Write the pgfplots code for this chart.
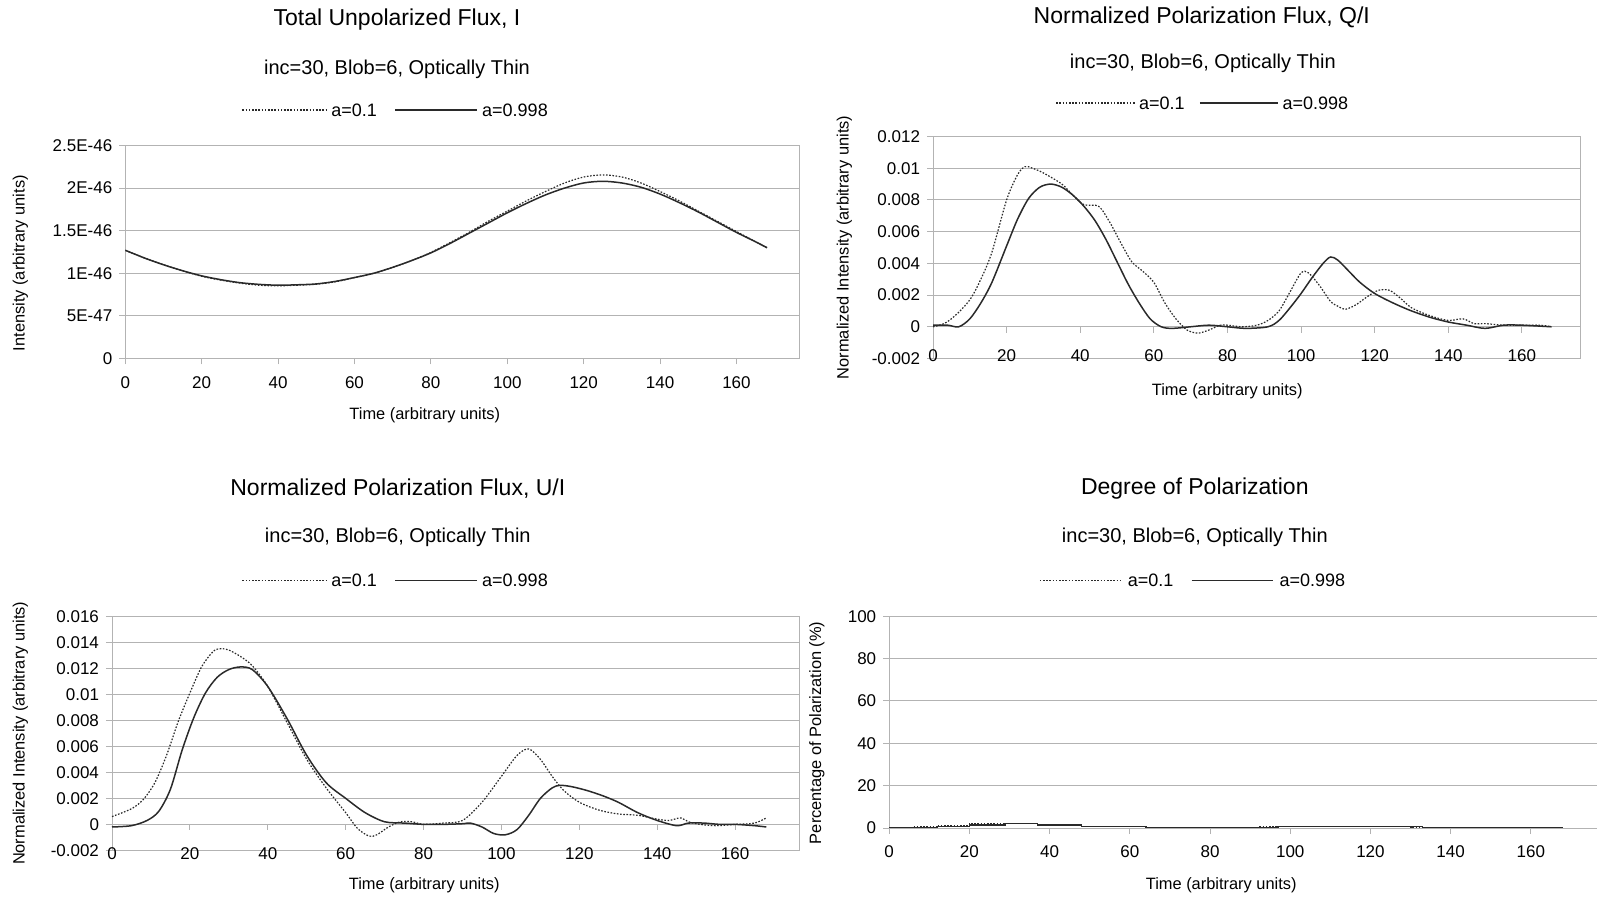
\documentclass[border=0pt]{standalone}
\usepackage{pgfplots}
\pgfplotsset{compat=1.18}
\usepackage{fontspec}
\setmainfont{Liberation Sans}
\definecolor{gridgray}{HTML}{B3B3B3}
\definecolor{curve}{HTML}{2A2A2A}
\pgfplotsset{
  myaxis/.style={
    scale only axis, anchor=south west,
    axis line style={gridgray, line width=0.5bp},
    ymajorgrids, major grid style={gridgray, line width=0.5bp},
    tick style={gridgray, line width=0.5bp},
    tick align=outside, major tick length=3bp,
    xtick pos=bottom, ytick pos=left,
    scaled y ticks=false, scaled x ticks=false,
    ticklabel style={font=\fontsize{8.5bp}{10bp}\selectfont, text=black},
    xticklabel style={yshift=-2.5bp},
    xmin=0,
    xtick={0,20,40,60,80,100,120,140,160},
    xticklabels={0,20,40,60,80,100,120,140,160},
  },
  dotline/.style={curve, line width=0.6bp, dash pattern=on 0.8bp off 0.8bp, smooth},
  solline/.style={curve, line width=0.75bp, smooth},
}
\newcommand{\ttl}{\fontsize{11.5bp}{13bp}\selectfont}
\newcommand{\sub}{\fontsize{10bp}{12bp}\selectfont}
\newcommand{\lab}{\fontsize{8.2bp}{10bp}\selectfont}
\newcommand{\leg}{\fontsize{9bp}{11bp}\selectfont}
\begin{document}
\begin{tikzpicture}
\path[use as bounding box] (0,0) rectangle (798.5bp,448.5bp);

% ---------------- Panel 1 ----------------
\begin{axis}[myaxis, at={(62.65bp,269.25bp)}, width=337.1bp, height=106.5bp,
  xmax=176.5, ymin=0, ymax=2.5,
  ytick={0,0.5,1,1.5,2,2.5},
  yticklabels={0,5E-47,1E-46,1.5E-46,2E-46,2.5E-46}]
\addplot[dotline] coordinates {(0,1.27)(5,1.18)(10,1.10)(15,1.03)(20,0.965)(25,0.92)(30,0.885)(35,0.86)(40,0.853)(45,0.86)(50,0.872)(55,0.90)(60,0.95)(65,1.00)(70,1.07)(75,1.15)(80,1.245)(85,1.36)(90,1.48)(95,1.61)(100,1.73)(105,1.85)(110,1.96)(115,2.06)(120,2.13)(125,2.155)(130,2.13)(135,2.06)(140,1.96)(145,1.85)(150,1.73)(155,1.61)(160,1.49)(165,1.37)(168,1.30)};
\addplot[solline] coordinates {(0,1.27)(5,1.18)(10,1.10)(15,1.03)(20,0.97)(25,0.925)(30,0.89)(35,0.87)(40,0.86)(45,0.865)(50,0.875)(55,0.905)(60,0.95)(65,1.00)(70,1.07)(75,1.15)(80,1.24)(85,1.35)(90,1.47)(95,1.59)(100,1.71)(105,1.82)(110,1.92)(115,2.00)(120,2.06)(125,2.08)(130,2.06)(135,2.01)(140,1.93)(145,1.83)(150,1.72)(155,1.60)(160,1.48)(165,1.37)(168,1.30)};
\end{axis}

% ---------------- Panel 2 ----------------
\begin{axis}[myaxis, at={(466.5bp,269.25bp)}, width=323.9bp, height=111bp,
  xmax=176, ymin=-0.002, ymax=0.012,
  ytick={-0.002,0,0.002,0.004,0.006,0.008,0.01,0.012},
  yticklabels={-0.002,0,0.002,0.004,0.006,0.008,0.01,0.012},
  xtick style={draw=none},
  xticklabel style={yshift=13.36bp}]
\pgfplotsinvokeforeach{20,40,60,80,100,120,140,160}{
  \draw[gridgray, line width=0.5bp] (axis cs:#1,0) -- ([yshift=-3bp]axis cs:#1,0);
}
\addplot[dotline] coordinates {(0,0)(3,0.0002)(6,0.0007)(10,0.0017)(13,0.003)(16,0.0047)(20,0.0080)(23,0.0096)(25,0.0101)(27,0.0100)(30,0.0097)(35,0.0090)(38,0.0083)(41,0.0077)(45,0.0076)(48,0.0066)(51,0.0053)(54,0.0041)(57,0.0035)(60,0.0028)(63,0.0015)(66,0.0005)(69,-0.0002)(72,-0.0004)(75,-0.0002)(78,0.0001)(80,0.0001)(84,0)(88,0.0001)(91,0.0004)(94,0.001)(97,0.0022)(100,0.0034)(102,0.0034)(105,0.0026)(108,0.0016)(110,0.0013)(112,0.0011)(115,0.0014)(118,0.0019)(121,0.0023)(124,0.0023)(127,0.0018)(130,0.0012)(135,0.0007)(140,0.0004)(144,0.0005)(147,0.0002)(150,0.0002)(155,0.0001)(160,0.0001)(165,0.0001)(168,0)};
\addplot[solline] coordinates {(0,0.0001)(4,0.0001)(7,0)(10,0.0005)(13,0.0015)(16,0.0028)(20,0.0051)(23,0.0068)(26,0.0081)(29,0.0088)(32,0.0090)(35,0.0088)(38,0.0083)(41,0.0076)(44,0.0067)(47,0.0055)(50,0.0041)(53,0.0027)(56,0.0015)(59,0.0005)(62,0)(65,-0.0001)(70,0)(75,0.0001)(80,0)(85,-0.0001)(91,0)(94,0.0004)(97,0.0012)(100,0.0021)(103,0.0031)(106,0.0040)(108,0.0044)(110,0.0042)(113,0.0035)(116,0.0028)(120,0.0021)(125,0.0015)(130,0.001)(135,0.0006)(140,0.0003)(145,0.0001)(150,-0.0001)(155,0.0001)(160,0.0001)(168,0)};
\end{axis}

% ---------------- Panel 3 ----------------
\begin{axis}[myaxis, at={(56bp,23.3bp)}, width=343.7bp, height=117.1bp,
  xmax=176.5, ymin=-0.002, ymax=0.016,
  ytick={-0.002,0,0.002,0.004,0.006,0.008,0.01,0.012,0.014,0.016},
  yticklabels={-0.002,0,0.002,0.004,0.006,0.008,0.01,0.012,0.014,0.016},
  xtick style={draw=none},
  xticklabel style={yshift=10.5bp}]
\pgfplotsinvokeforeach{20,40,60,80,100,120,140,160}{
  \draw[gridgray, line width=0.5bp] (axis cs:#1,0) -- ([yshift=-3bp]axis cs:#1,0);
}
\addplot[dotline] coordinates {(0,0.0006)(5,0.0012)(8,0.0019)(11,0.0032)(14,0.0053)(17,0.0079)(20,0.0101)(23,0.0121)(26,0.0133)(28,0.0135)(30,0.0134)(33,0.0129)(36,0.0122)(40,0.0106)(45,0.0078)(50,0.0050)(55,0.0028)(60,0.0009)(63,-0.0003)(66,-0.0009)(68,-0.0008)(71,-0.0002)(74,0.0002)(77,0.0002)(80,0)(85,0.0001)(90,0.0003)(95,0.0017)(100,0.0037)(104,0.0053)(107,0.0058)(110,0.0050)(113,0.0037)(116,0.0026)(120,0.0017)(125,0.0011)(130,0.0008)(135,0.0007)(140,0.0004)(143,0.0003)(146,0.0005)(148,0.0002)(151,0)(155,-0.0001)(160,0)(165,0.0001)(168,0.0005)};
\addplot[solline] coordinates {(0,-0.0002)(5,-0.0001)(9,0.0003)(12,0.0010)(15,0.0027)(18,0.0057)(21,0.0082)(24,0.0101)(27,0.0113)(30,0.0119)(33,0.0121)(36,0.0119)(40,0.0106)(45,0.0081)(50,0.0053)(55,0.0032)(60,0.0020)(65,0.0009)(70,0.0002)(75,0.0001)(80,0)(85,0)(90,0.00005)(92,0.0001)(95,-0.0002)(98,-0.0007)(101,-0.0008)(104,-0.0004)(107,0.0007)(110,0.0020)(113,0.0028)(115,0.0030)(118,0.0029)(122,0.0026)(126,0.0022)(130,0.0017)(135,0.0009)(140,0.0003)(145,-0.0001)(148,0.0001)(152,0.0001)(156,0)(160,0)(165,-0.0001)(168,-0.0002)};
\end{axis}

% ---------------- Panel 4 ----------------
\begin{axis}[myaxis, at={(444.6bp,34.5bp)}, width=353.9bp, height=105.9bp,
  xmax=176.5, ymin=0, ymax=100,
  ytick={0,20,40,60,80,100},
  yticklabels={0,20,40,60,80,100}]
\addplot[curve, line width=0.6bp, dash pattern=on 0.8bp off 0.8bp, const plot] coordinates {(0,0)(6,0.6)(12,1.3)(20,2.2)(29,2.2)(37,1.3)(48,0.6)(64,0)(92,0.6)(130,0.3)(133,0)(168,0)};
\addplot[curve, line width=0.75bp, const plot] coordinates {(0,0)(12,0.6)(20,1.4)(29,2.2)(37,1.3)(48,0.6)(64,0)(97,0.6)(133,0)(168,0)};
\end{axis}

% ---------------- Titles and labels ----------------
\begin{scope}[every node/.style={text=black, inner sep=0pt}]
% panel 1
\node[font=\ttl] at (198.5bp,438.8bp) {Total Unpolarized Flux, I};
\node[font=\sub] at (198.5bp,413.85bp) {inc=30, Blob=6, Optically Thin};
\node[font=\lab] at (212.4bp,240.75bp) {Time (arbitrary units)};
\node[font=\lab, rotate=90] at (10.2bp,316.9bp) {Intensity (arbitrary units)};
\draw[curve, line width=0.6bp, dash pattern=on 0.8bp off 0.8bp] (121.2bp,393.5bp) -- (163.0bp,393.5bp);
\node[font=\leg, anchor=west] at (165.5bp,393.5bp) {a=0.1};
\draw[curve, line width=0.75bp] (197.6bp,393.5bp) -- (238.3bp,393.5bp);
\node[font=\leg, anchor=west] at (240.9bp,393.5bp) {a=0.998};
% panel 2
\node[font=\ttl] at (600.9bp,439.8bp) {Normalized Polarization Flux, Q/I};
\node[font=\sub] at (601.4bp,416.9bp) {inc=30, Blob=6, Optically Thin};
\node[font=\lab] at (613.6bp,253.0bp) {Time (arbitrary units)};
\node[font=\lab, rotate=90] at (422.2bp,324.8bp) {Normalized Intensity (arbitrary units)};
\draw[curve, line width=0.6bp, dash pattern=on 0.8bp off 0.8bp] (528.1bp,397bp) -- (567.8bp,397bp);
\node[font=\leg, anchor=west] at (569.4bp,397bp) {a=0.1};
\draw[curve, line width=0.75bp] (599.9bp,397bp) -- (639.1bp,397bp);
\node[font=\leg, anchor=west] at (641.1bp,397bp) {a=0.998};
% panel 3
\node[font=\ttl] at (198.9bp,204.05bp) {Normalized Polarization Flux, U/I};
\node[font=\sub] at (198.9bp,179.6bp) {inc=30, Blob=6, Optically Thin};
\node[font=\lab] at (212.1bp,5.95bp) {Time (arbitrary units)};
\node[font=\lab, rotate=90] at (10.2bp,81.85bp) {Normalized Intensity (arbitrary units)};
\draw[curve, line width=0.6bp, dash pattern=on 0.8bp off 0.8bp] (121.2bp,158.25bp) -- (163.0bp,158.25bp);
\node[font=\leg, anchor=west] at (165.5bp,158.25bp) {a=0.1};
\draw[curve, line width=0.75bp] (197.6bp,158.25bp) -- (238.3bp,158.25bp);
\node[font=\leg, anchor=west] at (240.9bp,158.25bp) {a=0.998};
% panel 4
\node[font=\ttl] at (597.4bp,204.05bp) {Degree of Polarization};
\node[font=\sub] at (597.4bp,179.6bp) {inc=30, Blob=6, Optically Thin};
\node[font=\lab] at (610.6bp,5.95bp) {Time (arbitrary units)};
\node[font=\lab, rotate=90] at (408.4bp,82.1bp) {Percentage of Polarization (\%)};
\draw[curve, line width=0.6bp, dash pattern=on 0.8bp off 0.8bp] (519.9bp,158.25bp) -- (561.2bp,158.25bp);
\node[font=\leg, anchor=west] at (563.7bp,158.25bp) {a=0.1};
\draw[curve, line width=0.75bp] (595.8bp,158.25bp) -- (636.6bp,158.25bp);
\node[font=\leg, anchor=west] at (639.6bp,158.25bp) {a=0.998};
\end{scope}
\end{tikzpicture}
\end{document}
